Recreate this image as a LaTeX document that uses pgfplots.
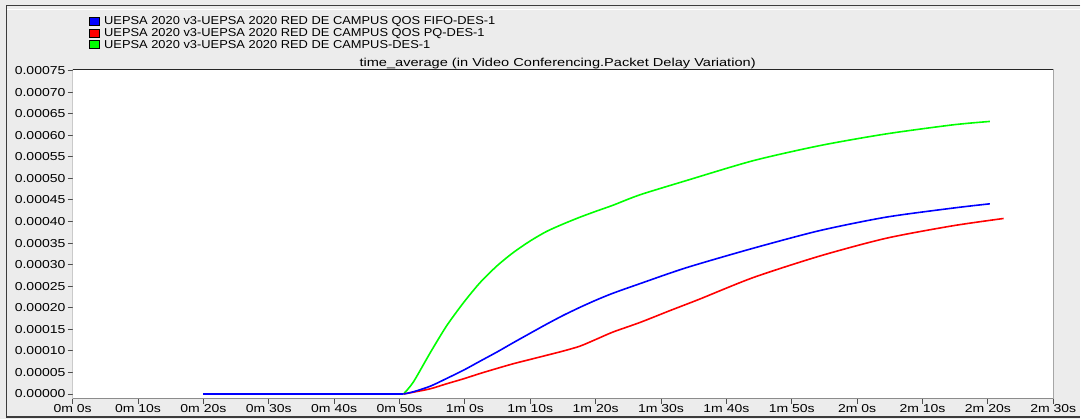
\documentclass[border=0pt]{standalone}
\usepackage{pgfplots}
\pgfplotsset{compat=1.18}
\usepackage{fontspec}
\setmainfont{Liberation Sans}[FakeStretch=1.22]
\newfontfamily\legfont{Liberation Sans}[FakeStretch=1.12]
\newfontfamily\titfont{Liberation Sans}[FakeStretch=1.27]

\definecolor{panel}{HTML}{ECECEC}
\definecolor{frameline}{HTML}{3C3C3C}
\definecolor{axisgray}{HTML}{8C8C8C}
\definecolor{fifoblue}{RGB}{0,0,255}
\definecolor{pqred}{RGB}{255,0,0}
\definecolor{basegreen}{RGB}{0,255,0}

% Packet delay variation (s) against simulation time (s)
% flat start of every run
\pgfplotstableread{
t     v
20    0
50.6  0
}\idle

\pgfplotstableread{
t     v
50.6  0
52.1  0.0000274
54.7  0.0000958
57.2  0.000158
59.8  0.000212
62.3  0.000258
64.9  0.000297
67.4  0.000328
70.0  0.000355
72.5  0.000377
75.0  0.000394
77.6  0.000410
80.1  0.000424
82.7  0.000438
86.8  0.000462
93.9  0.000495
104.1 0.000541
114.3 0.000576
124.4 0.000603
134.6 0.000624
140.3 0.000632
}\campus

\pgfplotstableread{
t     v
50.6  0
52.1  0.0000042
54.7  0.0000121
57.2  0.0000237
59.8  0.0000353
62.3  0.0000475
64.9  0.0000593
67.4  0.0000702
70.0  0.0000802
72.5  0.0000898
75.0  0.0000995
77.6  0.000111
80.1  0.000127
82.7  0.000144
86.8  0.000166
91.3  0.000193
95.9  0.000220
104.1 0.000270
114.3 0.000320
124.4 0.000361
134.6 0.000390
142.4 0.000407
}\qospq

\pgfplotstableread{
t     v
50.6  0
52.1  0.0000051
54.7  0.0000181
57.2  0.0000360
59.8  0.0000553
62.3  0.0000760
64.9  0.0000973
67.4  0.000119
70.0  0.000141
72.5  0.000162
75.0  0.000182
77.6  0.000201
80.1  0.000218
82.7  0.000234
86.8  0.000256
93.9  0.000293
104.1 0.000338
114.3 0.000379
124.4 0.000410
134.6 0.000431
140.3 0.000441
}\qosfifo

\begin{document}
\begin{tikzpicture}[x=1pt,y=1pt]
  % window panel and its sunken frame
  \fill[panel] (0,0) rectangle (1081,419);
  \draw[frameline, line width=1.5pt] (1081,413.5) -- (6.5,413.5) -- (6.5,1.5) -- (1081,1.5);
  \draw[white, line width=1pt] (7.5,409.8) -- (1081,409.8);

  % legend
  \foreach \yc/\col/\txt in {
      397.3/fifoblue/{UEPSA 2020 v3-UEPSA 2020 RED DE CAMPUS QOS FIFO-DES-1},
      385.5/pqred/{UEPSA 2020 v3-UEPSA 2020 RED DE CAMPUS QOS PQ-DES-1},
      374.2/basegreen/{UEPSA 2020 v3-UEPSA 2020 RED DE CAMPUS-DES-1}}{
    \draw[black, line width=0.6pt, fill=\col] (89,\yc-4) rectangle (99,\yc+4);
    \node[anchor=west, inner sep=0pt, font=\legfont\fontsize{11.5}{12}\selectfont] at (104,\yc) {\txt};
  }

  % plot title
  \node[font=\titfont\fontsize{11.5}{12}\selectfont, inner sep=0pt] at (558,355.5)
    {time\_average (in Video Conferencing.Packet Delay Variation)};

  \begin{axis}[
    at={(72.7pt,20pt)}, anchor=south west,
    scale only axis, width=981.3pt, height=329.7pt,
    xmin=0, xmax=150,
    ymin=-0.0000109, ymax=0.000753,
    axis line style={draw=none},
    axis background/.style={fill=white},
    xtick={0,10,...,150},
    xticklabels={0m 0s,0m 10s,0m 20s,0m 30s,0m 40s,0m 50s,1m 0s,1m 10s,1m 20s,1m 30s,1m 40s,1m 50s,2m 0s,2m 10s,2m 20s,2m 30s},
    ytick={0,0.00005,0.0001,0.00015,0.0002,0.00025,0.0003,0.00035,0.0004,0.00045,0.0005,0.00055,0.0006,0.00065,0.0007,0.00075},
    yticklabels={0.00000,0.00005,0.00010,0.00015,0.00020,0.00025,0.00030,0.00035,0.00040,0.00045,0.00050,0.00055,0.00060,0.00065,0.00070,0.00075},
    scaled y ticks=false,
    xtick pos=bottom, ytick pos=left,
    tick align=outside,
    major tick length=5pt,
    tick style={black!70, line width=1pt},
    xticklabel style={font=\fontsize{11.5}{12}\selectfont, inner sep=0pt, yshift=-1pt},
    yticklabel style={font=\fontsize{11.5}{12}\selectfont, inner sep=0pt, xshift=-2pt},
    clip=true,
    every axis plot/.append style={line width=1.6pt, line join=round},
  ]
    \addplot[basegreen] table[x=t, y=v] {\idle};
    \addplot[basegreen, smooth, tension=0.45] table[x=t, y=v] {\campus};
    \addplot[pqred] table[x=t, y=v] {\idle};
    \addplot[pqred, smooth, tension=0.45] table[x=t, y=v] {\qospq};
    \addplot[fifoblue] table[x=t, y=v] {\idle};
    \addplot[fifoblue, smooth, tension=0.45] table[x=t, y=v] {\qosfifo};

    % sunken plot-frame: grey left/bottom, black top/right
    \draw[axisgray, line width=1.5pt] (rel axis cs:0,1) -- (rel axis cs:0,0) -- (rel axis cs:1,0);
    \draw[black!85, line width=1.5pt] (rel axis cs:0,1) -- (rel axis cs:1,1) -- (rel axis cs:1,0);
  \end{axis}
\end{tikzpicture}
\end{document}
